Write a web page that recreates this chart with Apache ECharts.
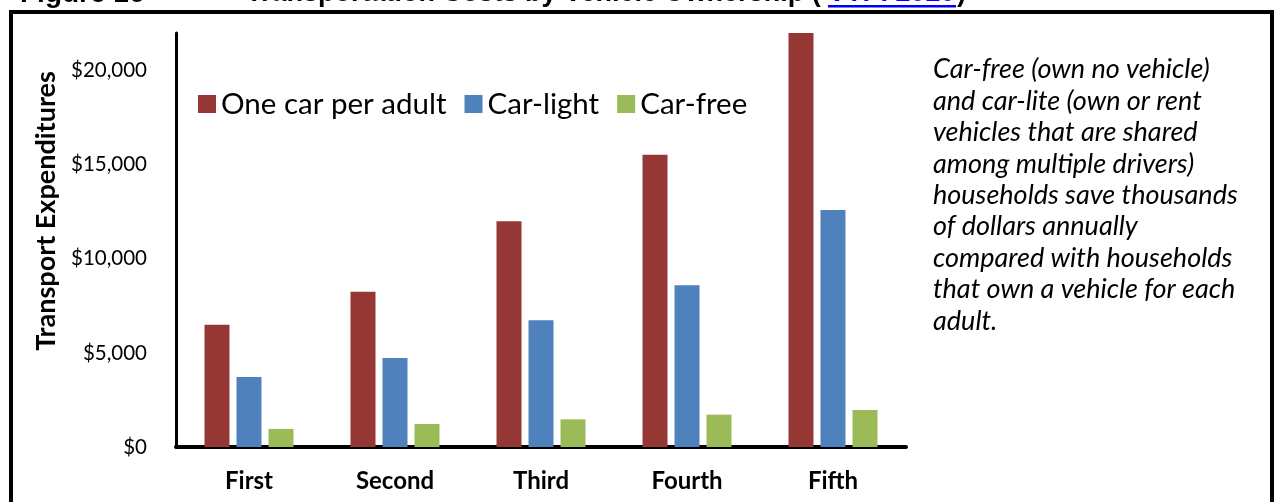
<!DOCTYPE html>
<html>
<head>
<meta charset="utf-8">
<script src="https://cdn.jsdelivr.net/npm/echarts@6/dist/echarts.min.js"></script>
<style>
html,body{margin:0;padding:0;background:#fff;}
#c{width:1277px;height:502px;}
</style>
</head>
<body>
<div id="c"></div>
<script>
const categories = ['First', 'Second', 'Third', 'Fourth', 'Fifth'];
const seriesNames = ['One car per adult', 'Car-light', 'Car-free'];
const oneCarPerAdult = [6500, 8250, 12000, 15530, 22000];
const carLight = [3720, 4730, 6740, 8600, 12590];
const carFree = [960, 1220, 1470, 1720, 1970];
const yTicks = [0, 5000, 10000, 15000, 20000];
const yMax = 22000;
const calloutLines = [
  'Car-free (own no vehicle)',
  'and car-lite (own or rent',
  'vehicles that are shared',
  'among multiple drivers)',
  'households save thousands',
  'of dollars annually',
  'compared with households',
  'that own a vehicle for each',
  'adult.'
];
const colors = ['#953735', '#4F81BD', '#9BBB59'];

const chart = echarts.init(document.getElementById('c'));
const seriesData = [oneCarPerAdult, carLight, carFree];

chart.setOption({
  animation: false,
  backgroundColor: '#ffffff',
  color: colors,
  grid: { left: 176, top: 33, width: 730, bottom: 55, containLabel: false },
  legend: {
    data: seriesNames,
    left: 193, top: 84,
    icon: 'rect', itemWidth: 18, itemHeight: 18, itemGap: 18,
    textStyle: { fontFamily: 'Lato', fontSize: 29.5, color: '#000' }
  },
  xAxis: {
    type: 'category', data: categories,
    axisLine: { lineStyle: { color: '#000', width: 4 } },
    axisTick: { show: false },
    axisLabel: { fontFamily: 'Lato', fontWeight: 'bold', fontSize: 24, color: '#000', margin: 22 }
  },
  yAxis: {
    type: 'value', min: 0, max: yMax, interval: 5000,
    axisLine: { show: true, lineStyle: { color: '#000', width: 3 } },
    axisTick: { show: false },
    splitLine: { show: false },
    axisLabel: {
      fontFamily: 'Lato', fontSize: 20.5, color: '#000', margin: 29,
      formatter: v => yTicks.includes(v) ? '$' + v.toLocaleString('en-US') : ''
    }
  },
  series: seriesNames.map((n, i) => ({
    name: n, type: 'bar', data: seriesData[i],
    barWidth: 25, barGap: '28%'
  })),
  graphic: [
    { type: 'rect', shape: { x: 11, y: 12, width: 1261, height: 520 },
      style: { fill: null, stroke: '#000', lineWidth: 4 }, silent: true },
    { type: 'text', x: 46, y: 211, rotation: Math.PI / 2,
      style: { text: 'Transport Expenditures', fontFamily: 'Lato', fontWeight: 'bold', fontSize: 27,
        fill: '#000', align: 'center', verticalAlign: 'middle' } },
    { type: 'text', x: 933, y: 54,
      style: { text: calloutLines.join('\n'), fontFamily: 'Lato', fontStyle: 'italic', fontSize: 27,
        lineHeight: 31.4, fill: '#000', align: 'left', verticalAlign: 'top' } },
    { type: 'text', x: 20, y: -6,
      style: { text: 'Figure 16', fontFamily: 'Liberation Sans', fontWeight: 'bold', fontSize: 28,
        fill: '#000', align: 'left', verticalAlign: 'middle' } },
    { type: 'text', x: 246, y: -6,
      style: { text: 'Transportation Costs by Vehicle Ownership (', fontFamily: 'Liberation Sans', fontWeight: 'bold', fontSize: 27,
        fill: '#000', align: 'left', verticalAlign: 'middle' } },
    { type: 'text', x: 828, y: -6,
      style: { text: 'VTPI 2020', fontFamily: 'Liberation Sans', fontWeight: 'bold', fontSize: 27,
        fill: '#0000FF', align: 'left', verticalAlign: 'middle' } },
    { type: 'rect', shape: { x: 828, y: 5, width: 128, height: 2.5 }, style: { fill: '#0000FF' } },
    { type: 'text', x: 957, y: -6,
      style: { text: ')', fontFamily: 'Liberation Sans', fontWeight: 'bold', fontSize: 27,
        fill: '#000', align: 'left', verticalAlign: 'middle' } }
  ]
});
</script>
</body>
</html>
